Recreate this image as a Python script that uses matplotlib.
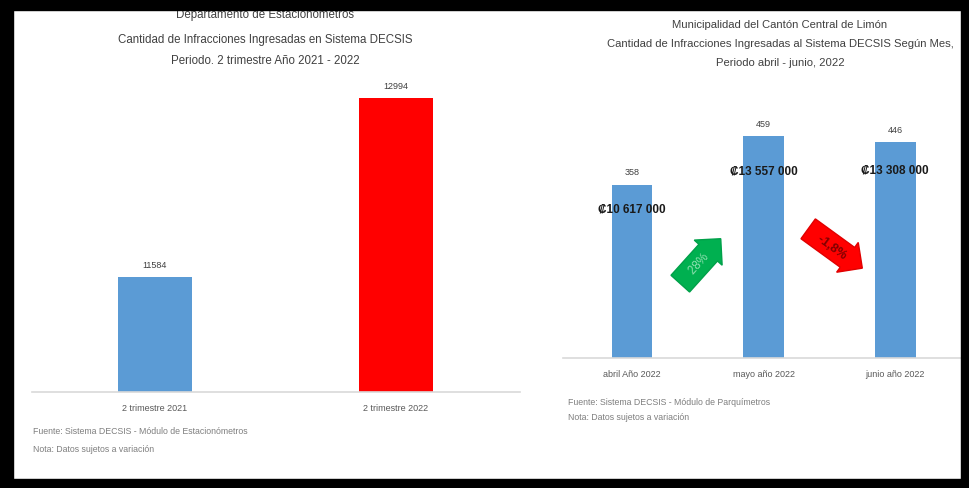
import matplotlib
matplotlib.use("Agg")
import matplotlib.pyplot as plt
from matplotlib.patches import Rectangle

plt.rcParams["font.family"] = ["Liberation Sans", "DejaVu Sans"]

# left chart: quarterly totals
left_categories = ["2 trimestre 2021", "2 trimestre 2022"]
left_values = [11584, 12994]
left_colors = ["#5b9bd5", "#ff0000"]
left_title = [
    "Departamento de Estacionometros",
    "Cantidad de Infracciones Ingresadas en Sistema DECSIS",
    "Periodo. 2 trimestre Año 2021 - 2022",
]
left_notes = ["Fuente: Sistema DECSIS - Módulo de Estacionómetros", "Nota: Datos sujetos a variación"]

# right chart: monthly counts and amounts
right_categories = ["abril Año 2022", "mayo año 2022", "junio año 2022"]
right_values = [358, 459, 446]
right_amounts = ["₡10 617 000", "₡13 557 000", "₡13 308 000"]
right_changes = ["28%", "-1,8%"]
right_title = [
    "Municipalidad del Cantón Central de Limón",
    "Cantidad de Infracciones Ingresadas al Sistema DECSIS Según Mes,",
    "Periodo abril - junio, 2022",
]
right_notes = ["Fuente: Sistema DECSIS - Módulo de Parquímetros", "Nota: Datos sujetos a variación"]

W, H = 969, 489
fig = plt.figure(figsize=(W / 100, H / 100), dpi=100)
fig.patch.set_facecolor("white")


def px_box(x0, y0, x1, y1):
    # pixel box (top-left origin) -> figure fraction rect
    return [x0 / W, 1 - y1 / H, (x1 - x0) / W, (y1 - y0) / H]


def fig_text(x, y, s, **kw):
    fig.text(x / W, 1 - y / H, s, **kw)


def style_axis(ax):
    for side in ["top", "right", "left"]:
        ax.spines[side].set_visible(False)
    ax.spines["bottom"].set_color("#d9d9d9")
    ax.spines["bottom"].set_linewidth(1.2)
    ax.set_yticks([])
    ax.tick_params(axis="x", length=0, labelsize=6.5, labelcolor="#595959", pad=8)
    ax.patch.set_alpha(0)


# ---- left chart
ax1 = fig.add_axes(px_box(32, 86, 520, 393))
x1 = range(len(left_values))
ax1.bar(x1, left_values, width=0.31, color=left_colors)
ax1.set_xlim(-0.51, 1.515)
ax1.set_ylim(10680, 13100)
ax1.set_xticks(list(x1), left_categories)
style_axis(ax1)
for i, v in enumerate(left_values):
    ax1.annotate(str(v), (i, v), xytext=(0, 6), textcoords="offset points",
                 ha="center", va="bottom", fontsize=6.5, color="#404040")

for line, y in zip(left_title, [15, 40, 61]):
    fig_text(265, y, line, ha="center", va="center", fontsize=8.3, color="#404040")
for line, y in zip(left_notes, [432, 450]):
    fig_text(33, y, line, ha="left", va="center", fontsize=6.3, color="#7f7f7f")

# ---- right chart
ax2 = fig.add_axes(px_box(563, 117, 965, 359))
x2 = range(len(right_values))
ax2.bar(x2, right_values, width=0.31, color="#5b9bd5")
ax2.set_xlim(-0.525, 2.53)
ax2.set_ylim(0, 500)
ax2.set_xticks(list(x2), right_categories)
ax2.tick_params(axis="x", pad=10)
style_axis(ax2)
drops = [17, 25, 20]
for i, (v, amt) in enumerate(zip(right_values, right_amounts)):
    ax2.annotate(str(v), (i, v), xytext=(0, 6), textcoords="offset points",
                 ha="center", va="bottom", fontsize=6.5, color="#404040")
    ax2.annotate(amt, (i, v), xytext=(0, -drops[i]), textcoords="offset points",
                 ha="center", va="center", fontsize=8.5, color="#1a1a1a", fontweight="bold")

# change arrows between bars
ax2.text(0.5, 194, "   " + right_changes[0] + "  ", rotation=48, ha="center", va="center",
         fontsize=8.5, color="#8fe0b0", rotation_mode="anchor",
         bbox=dict(boxstyle="rarrow,pad=0.55", fc="#00b050", ec="#00a049"))
ax2.text(1.52, 231, "  " + right_changes[1] + "  ", rotation=-36, ha="center", va="center",
         fontsize=9, color="#800000", fontweight="bold", rotation_mode="anchor",
         bbox=dict(boxstyle="rarrow,pad=0.5", fc="#ff0000", ec="#e00000"))

for line, y in zip(right_title, [25, 44, 63]):
    fig_text(780, y, line, ha="center", va="center", fontsize=8.1, color="#404040")
for line, y in zip(right_notes, [403, 418]):
    fig_text(568, y, line, ha="left", va="center", fontsize=6.3, color="#7f7f7f")

# black frame around the composite
for x0, y0, x1_, y1_ in [(0, 0, W, 11), (0, 480, W, H), (0, 0, 13, H), (961, 0, W, H)]:
    r = px_box(x0, y0, x1_, y1_)
    fig.add_artist(Rectangle((r[0], r[1]), r[2], r[3], transform=fig.transFigure,
                             color="black", zorder=10))

fig.savefig("out.png", dpi=100)
